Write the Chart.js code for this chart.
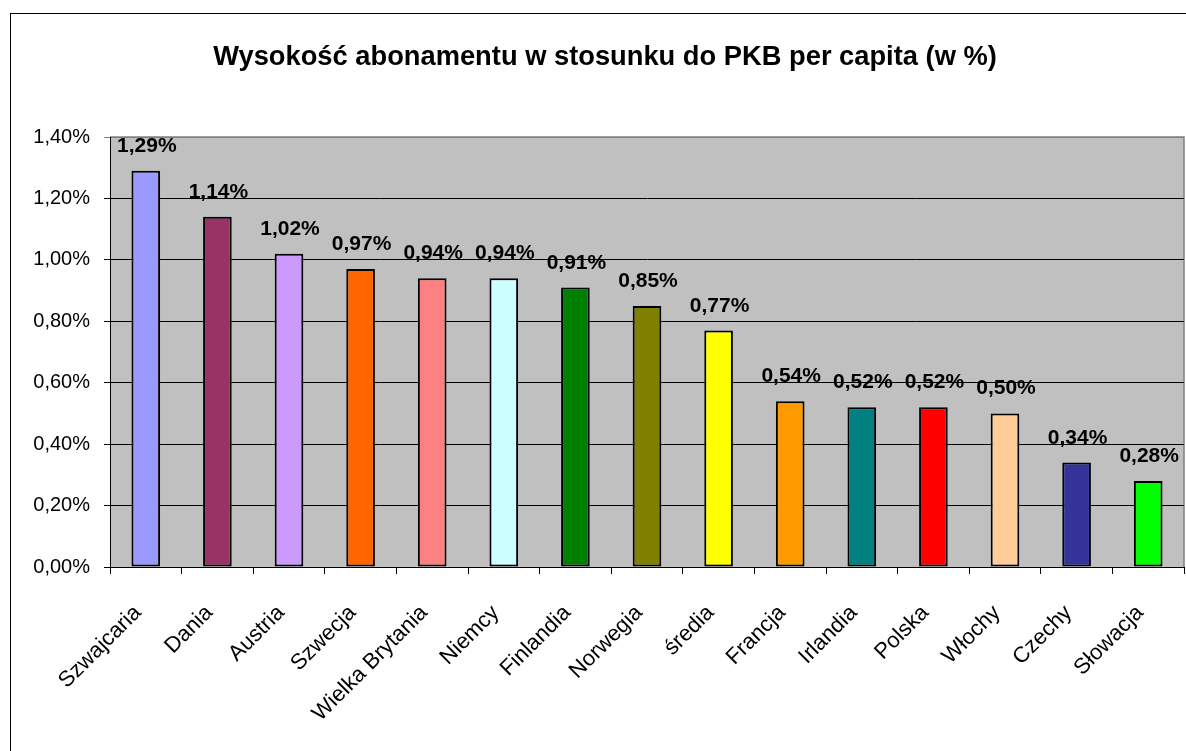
<!DOCTYPE html>
<html>
<head>
<meta charset="utf-8">
<script src="https://cdn.jsdelivr.net/npm/chart.js@4.4.1/dist/chart.umd.min.js"></script>
<style>
  html, body { margin: 0; padding: 0; background: #fff; }
  #wrap { position: relative; width: 1186px; height: 751px; }
</style>
</head>
<body>
<div id="wrap"><canvas id="c" width="1186" height="751"></canvas></div>
<script>
const titleText = 'Wysokość abonamentu w stosunku do PKB per capita (w %)';
const categories = ['Szwajcaria', 'Dania', 'Austria', 'Szwecja', 'Wielka Brytania', 'Niemcy', 'Finlandia', 'Norwegia', 'średia', 'Francja', 'Irlandia', 'Polska', 'Włochy', 'Czechy', 'Słowacja'];
const values = [1.29, 1.14, 1.02, 0.97, 0.94, 0.94, 0.91, 0.85, 0.77, 0.54, 0.52, 0.52, 0.50, 0.34, 0.28];
const barColors = ['#9999FF', '#993366', '#CC99FF', '#FF6600', '#FF8080', '#CCFFFF', '#008000', '#808000', '#FFFF00', '#FF9900', '#008080', '#FF0000', '#FFCC99', '#333399', '#00FF00'];
const yMin = 0, yMax = 1.4, yStep = 0.2;

const FONT = '"Liberation Sans", Arial, sans-serif';
const fmt = v => v.toFixed(2).replace('.', ',') + '%';

const decor = {
  id: 'decor',
  beforeDraw(chart) {
    const ctx = chart.ctx, a = chart.chartArea;
    ctx.save();
    ctx.fillStyle = '#fff';
    ctx.fillRect(0, 0, chart.width, chart.height);
    // outer frame
    ctx.strokeStyle = '#000';
    ctx.lineWidth = 1;
    ctx.strokeRect(10.5, 13.5, 1300, 900);
    // plot background
    ctx.fillStyle = '#C0C0C0';
    ctx.fillRect(a.left, a.top, a.right - a.left, a.bottom - a.top);
    ctx.strokeStyle = '#808080';
    ctx.lineWidth = 1.5;
    ctx.beginPath();
    ctx.moveTo(a.left, a.top);
    ctx.lineTo(a.right, a.top);
    ctx.lineTo(a.right, a.bottom);
    ctx.stroke();
    // title
    ctx.fillStyle = '#000';
    ctx.font = 'bold 27.3px ' + FONT;
    ctx.textAlign = 'center';
    ctx.textBaseline = 'alphabetic';
    ctx.fillText(titleText, 605, 65);
    ctx.restore();
  },
  afterDatasetsDraw(chart) {
    const ctx = chart.ctx;
    const meta = chart.getDatasetMeta(0);
    ctx.save();
    ctx.fillStyle = '#000';
    ctx.font = 'bold 21px ' + FONT;
    ctx.textAlign = 'center';
    ctx.textBaseline = 'alphabetic';
    meta.data.forEach((bar, i) => {
      ctx.fillText(fmt(values[i]), bar.x + 1, bar.y - 19);
    });
    ctx.restore();
  }
};

new Chart(document.getElementById('c'), {
  type: 'bar',
  data: {
    labels: categories,
    datasets: [{
      data: values,
      backgroundColor: barColors,
      borderColor: '#000',
      borderWidth: 2,
      borderSkipped: false,
      categoryPercentage: 1,
      barPercentage: 0.4
    }]
  },
  options: {
    responsive: false,
    animation: false,
    devicePixelRatio: 1,
    layout: { padding: { top: 137, right: 2, left: 0, bottom: 0 } },
    plugins: { legend: { display: false }, title: { display: false }, tooltip: { enabled: false } },
    scales: {
      x: {
        offset: true,
        grid: { display: true, offset: true, drawOnChartArea: false, drawTicks: true, tickLength: 7, color: '#000', lineWidth: 1 },
        border: { display: true, color: '#000', width: 1 },
        ticks: { color: '#000', font: { family: FONT, size: 22 }, minRotation: 45, maxRotation: 45, padding: 26, labelOffset: -8, autoSkip: false },
        afterFit(s) { s.height = 184; s.paddingLeft = 0; s.paddingRight = 0; s.paddingTop = 0; s.paddingBottom = 0; }
      },
      y: {
        min: yMin, max: yMax,
        grid: { color: ctx => (ctx.tick && Math.abs(ctx.tick.value - yMax) < 1e-9) ? '#808080' : '#000', lineWidth: 1, tickLength: 6, drawTicks: true },
        border: { display: true, color: '#000', width: 1 },
        ticks: { stepSize: yStep, color: '#000', font: { family: FONT, size: 20 }, padding: 14, callback: v => fmt(v) },
        afterFit(s) { s.width = 110; s.paddingTop = 0; s.paddingBottom = 0; }
      }
    }
  },
  plugins: [decor]
});
</script>
</body>
</html>
